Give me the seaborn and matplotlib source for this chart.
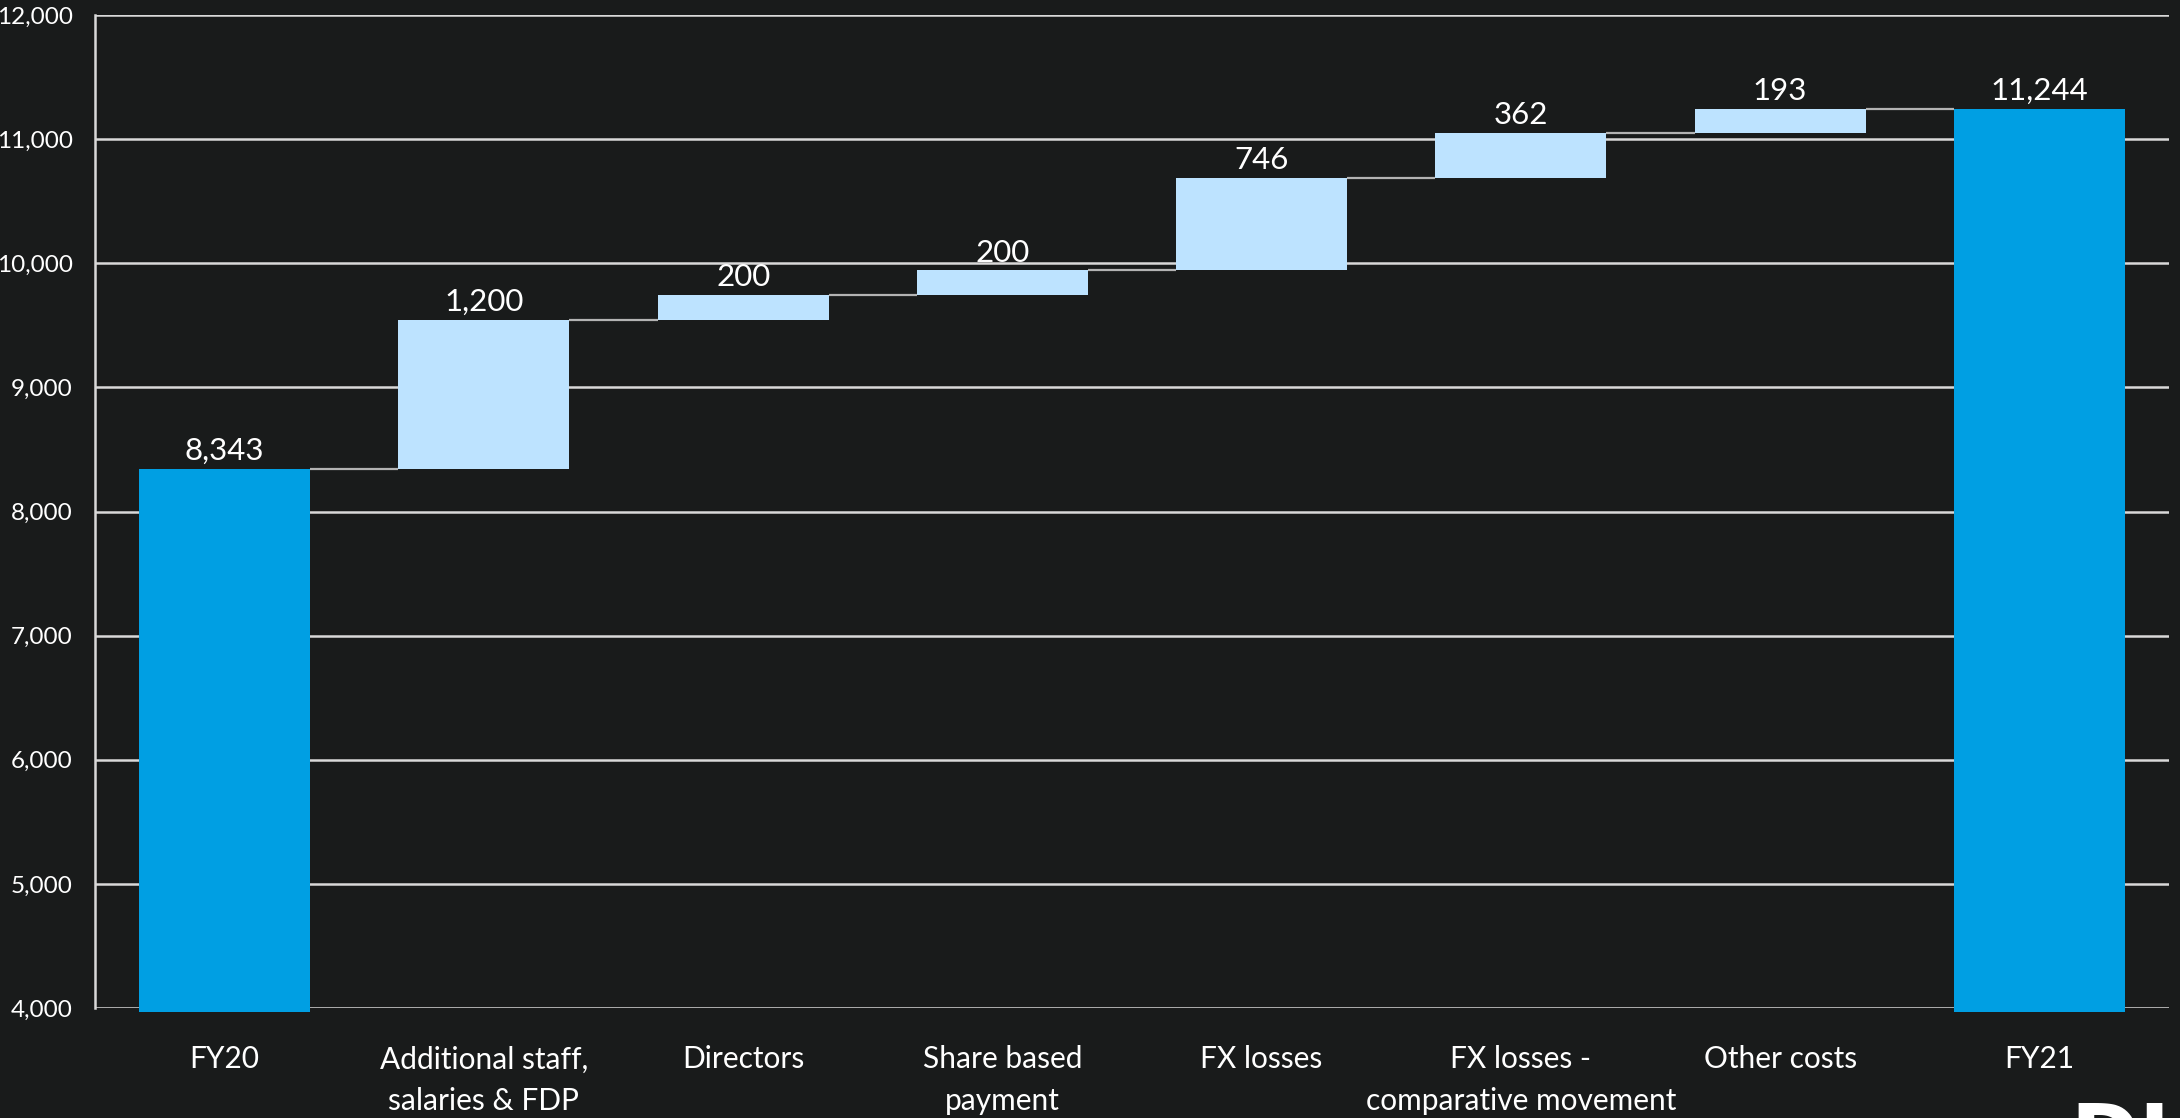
import matplotlib
matplotlib.use("Agg")
import matplotlib.pyplot as plt
import seaborn as sns
import numpy as np
import pandas as pd

# Cost bridge FY20 -> FY21
categories = [
    "FY20",
    "Additional staff,\nsalaries & FDP",
    "Directors",
    "Share based\npayment",
    "FX losses",
    "FX losses -\ncomparative movement",
    "Other costs",
    "FY21",
]
opening_total = 8343
increments = [1200, 200, 200, 746, 362, 193]
closing_total = 11244
y_ticks = [4000, 5000, 6000, 7000, 8000, 9000, 10000, 11000, 12000]

BG = "#191b1b"
TOTAL_COLOR = "#009fe3"
STEP_COLOR = "#bde3ff"
GRID_COLOR = "#d9d9d9"
LINK_COLOR = "#b3b3b3"
FLOOR = 3965  # totals start just below the axis floor

sns.set_theme(style="dark")
plt.rcParams["font.family"] = ["Lato", "DejaVu Sans"]

# Build the waterfall table
levels = np.cumsum([opening_total] + increments)
bottoms = [FLOOR] + list(levels[:-1]) + [FLOOR]
tops = list(levels) + [closing_total]
heights = [t - b for t, b in zip(tops, bottoms)]
labels = [opening_total] + increments + [closing_total]
kinds = ["total"] + ["step"] * len(increments) + ["total"]
df = pd.DataFrame({"category": categories, "height": heights, "bottom": bottoms,
                   "top": tops, "label": labels, "kind": kinds})

fig = plt.figure(figsize=(21.8, 11.18), dpi=100, facecolor=BG)
ax = fig.add_axes([95 / 2180, 1 - 1008 / 1118, (2169 - 95) / 2180, (1008 - 15) / 1118])
ax.set_facecolor(BG)

sns.barplot(data=df, x="category", y="height", bottom=df["bottom"].values,
            color=STEP_COLOR, width=0.66, saturation=1, linewidth=0,
            ax=ax, zorder=3, clip_on=False)
for patch, kind in zip(ax.patches, df["kind"]):
    patch.set_facecolor(TOTAL_COLOR if kind == "total" else STEP_COLOR)

# Connector lines between consecutive bars
half = 0.33
for i in range(len(df) - 1):
    level = df["top"].iloc[i]
    ax.hlines(level, i + half, i + 1 - half, color=LINK_COLOR, lw=1.6, zorder=2)

# Value labels
for i, row in df.iterrows():
    ax.text(i, row["top"] + 30, f"{row['label']:,}", ha="center", va="bottom",
            color="white", fontsize=22.5, zorder=4)

ax.set_xlim(-0.5, len(df) - 0.5)
ax.set_ylim(4000, 12000)
ax.set_yticks(y_ticks)
ax.set_yticklabels([f"{v:,}" for v in y_ticks])
ax.grid(axis="y", color=GRID_COLOR, lw=1.8, zorder=0)
ax.grid(axis="x", visible=False)
ax.set_axisbelow(True)
ax.set_xlabel("")
ax.set_ylabel("")

for side in ["top", "right", "bottom"]:
    ax.spines[side].set_visible(False)
ax.spines["left"].set_color(GRID_COLOR)
ax.spines["left"].set_linewidth(1.8)

ax.tick_params(axis="y", colors="white", labelsize=17.5, length=0, pad=16)
ax.tick_params(axis="x", colors="white", labelsize=21.5, length=0, pad=27)
for lbl in ax.get_xticklabels():
    lbl.set_linespacing(1.6)
    lbl.set_verticalalignment("top")

fig.text(2070 / 2180, 1 - 1100 / 1118, "DI", color="white", fontsize=60,
         fontweight="bold", ha="left", va="top", family=["DejaVu Sans"])

fig.savefig("out.png", dpi=100, facecolor=BG)
